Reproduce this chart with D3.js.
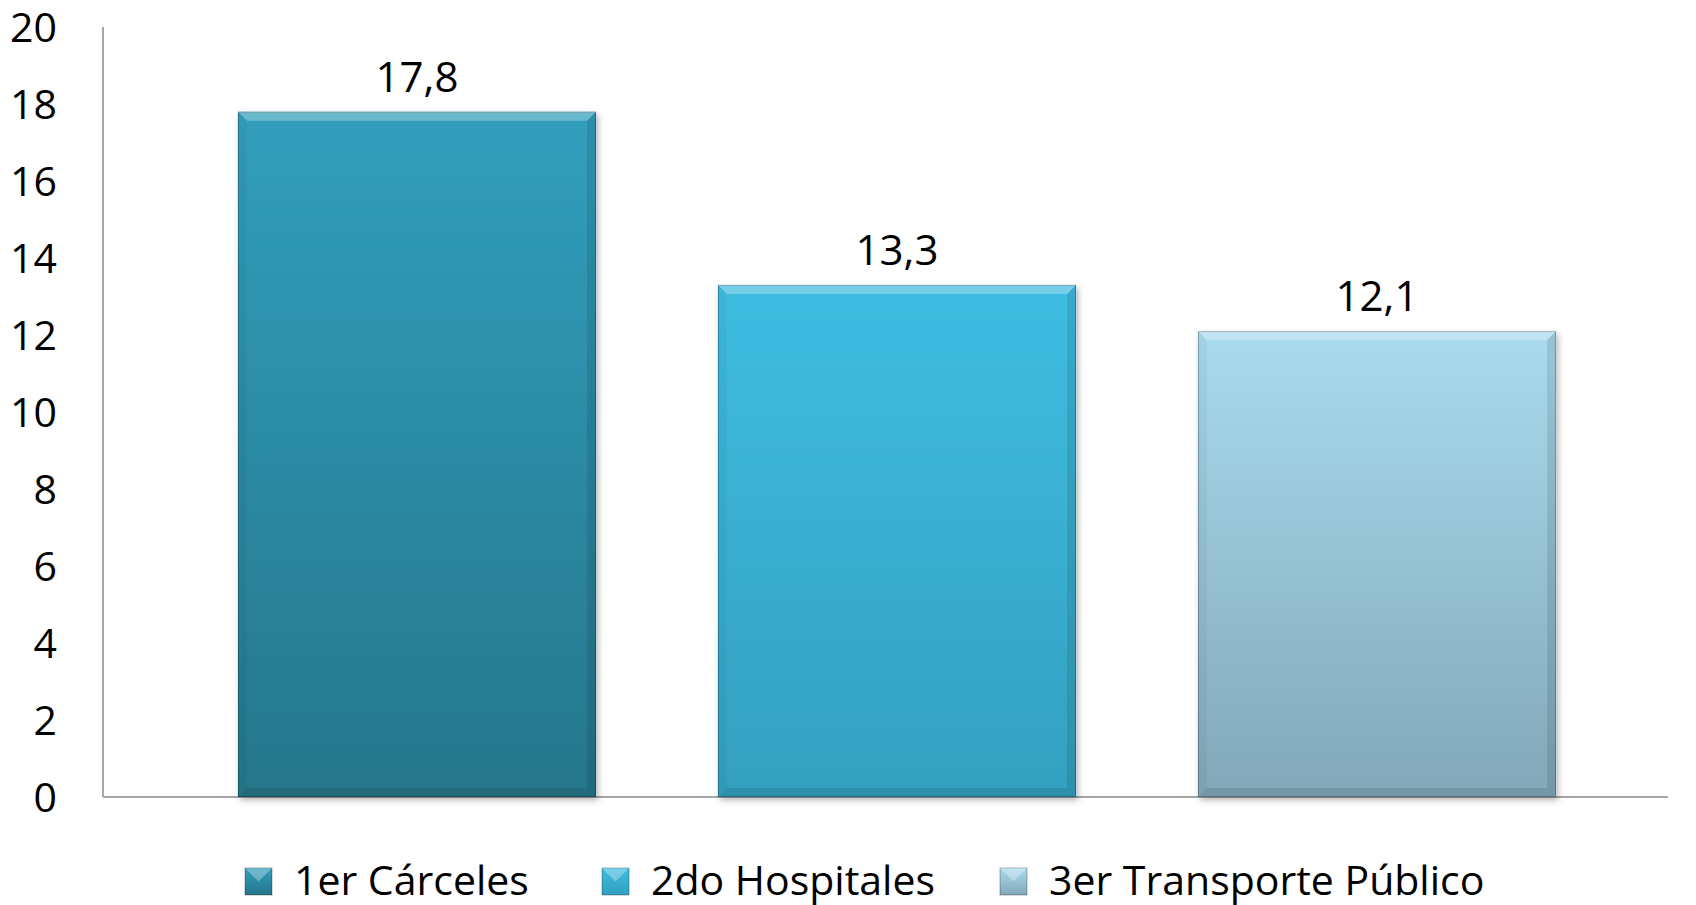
<!DOCTYPE html>
<html><head><meta charset="utf-8">
<script src="https://cdn.jsdelivr.net/npm/d3@7"></script>
<style>html,body{margin:0;padding:0;background:#fff;}svg{display:block;}</style>
</head><body>
<svg id="c" width="1696" height="905"></svg>
<script>
const categories = ["1er Cárceles", "2do Hospitales", "3er Transporte Público"];
const values = [17.8, 13.3, 12.1];
const valueLabels = ["17,8", "13,3", "12,1"];
const yTicks = [0, 2, 4, 6, 8, 10, 12, 14, 16, 18, 20];
const topColors = ["#319fbd", "#3fbde1", "#a9dbee"];
const bottomColors = ["#26768b", "#33a0c0", "#82a8b9"];
const legendX = [245, 602, 1000];

const svg = d3.select("#c");
const font = "'Open Sans', 'Noto Sans', sans-serif";

const y = d3.scaleLinear().domain([0, 20]).range([797, 27]);
const x = d3.scaleBand().domain(categories).range([177, 1617]).paddingInner(0.254).paddingOuter(0.127);

const defs = svg.append("defs");
const f = defs.append("filter").attr("id", "sh").attr("x", "-5%").attr("y", "-5%").attr("width", "115%").attr("height", "115%");
f.append("feDropShadow").attr("dx", 2).attr("dy", 3).attr("stdDeviation", 3).attr("flood-color", "#000").attr("flood-opacity", 0.3);

categories.forEach((c, i) => {
  const g = defs.append("linearGradient").attr("id", "g" + i).attr("x1", 0).attr("y1", 0).attr("x2", 0).attr("y2", 1);
  g.append("stop").attr("offset", "0%").attr("stop-color", topColors[i]);
  g.append("stop").attr("offset", "100%").attr("stop-color", bottomColors[i]);
});

// axes
svg.append("line").attr("x1", 103).attr("x2", 103).attr("y1", y(20)).attr("y2", y(0)).attr("stroke", "#a6a6a6").attr("stroke-width", 2);
svg.append("line").attr("x1", 103).attr("x2", 1668).attr("y1", y(0)).attr("y2", y(0)).attr("stroke", "#a6a6a6").attr("stroke-width", 2);

svg.append("g").selectAll("text").data(yTicks).join("text")
  .attr("x", 57).attr("y", d => y(d)).attr("dy", "0.36em")
  .attr("text-anchor", "end").attr("font-family", font).attr("font-size", 41).attr("fill", "#000")
  .text(d => d);

// bars
const bv = 9;
const bars = svg.append("g").selectAll("g").data(values).join("g");
bars.each(function(v, i) {
  const g = d3.select(this);
  const x0 = x(categories[i]), x1 = x0 + x.bandwidth();
  const y0 = y(v), y1 = y(0);
  g.append("rect").attr("x", x0).attr("y", y0).attr("width", x1 - x0).attr("height", y1 - y0)
    .attr("fill", "url(#g" + i + ")").attr("filter", "url(#sh)");
  g.append("polygon").attr("points", [[x0, y0], [x1, y0], [x1 - bv, y0 + bv], [x0 + bv, y0 + bv]].join(" "))
    .attr("fill", "#ffffff").attr("opacity", 0.28);
  g.append("line").attr("x1", x0).attr("x2", x1).attr("y1", y0 + 0.5).attr("y2", y0 + 0.5).attr("stroke", "#fff").attr("stroke-opacity", 0.35);
  g.append("polygon").attr("points", [[x0, y0], [x0 + bv, y0 + bv], [x0 + bv, y1 - bv], [x0, y1]].join(" "))
    .attr("fill", "#000").attr("opacity", 0.04);
  g.append("polygon").attr("points", [[x1, y0], [x1 - bv, y0 + bv], [x1 - bv, y1 - bv], [x1, y1]].join(" "))
    .attr("fill", "#000").attr("opacity", 0.1);
  g.append("polygon").attr("points", [[x0, y1], [x0 + bv, y1 - bv], [x1 - bv, y1 - bv], [x1, y1]].join(" "))
    .attr("fill", "#000").attr("opacity", 0.1);
  g.append("rect").attr("x", x0 + 0.5).attr("y", y0 + 0.5).attr("width", x1 - x0 - 1).attr("height", y1 - y0 - 1)
    .attr("fill", "none").attr("stroke", "#000").attr("stroke-opacity", 0.25);
});

// value labels
svg.append("g").selectAll("text").data(values).join("text")
  .attr("x", (d, i) => x(categories[i]) + x.bandwidth() / 2)
  .attr("y", d => y(d) - 20)
  .attr("text-anchor", "middle").attr("font-family", font).attr("font-size", 42).attr("fill", "#000")
  .text((d, i) => valueLabels[i]);

// legend
const lg = svg.append("g");
categories.forEach((c, i) => {
  const gx = legendX[i];
  lg.append("rect").attr("x", gx).attr("y", 868).attr("width", 27).attr("height", 27).attr("fill", "url(#g" + i + ")")
    .attr("stroke", "#000").attr("stroke-opacity", 0.3);
  lg.append("polygon").attr("points", [[gx, 868], [gx + 27, 868], [gx + 13.5, 881.5]].join(" ")).attr("fill", "#fff").attr("opacity", 0.3);
  lg.append("text").attr("x", gx + 49).attr("y", 880).attr("dy", "0.36em")
    .attr("font-family", font).attr("font-size", 41).attr("fill", "#000").text(c);
});
</script>
</body></html>
